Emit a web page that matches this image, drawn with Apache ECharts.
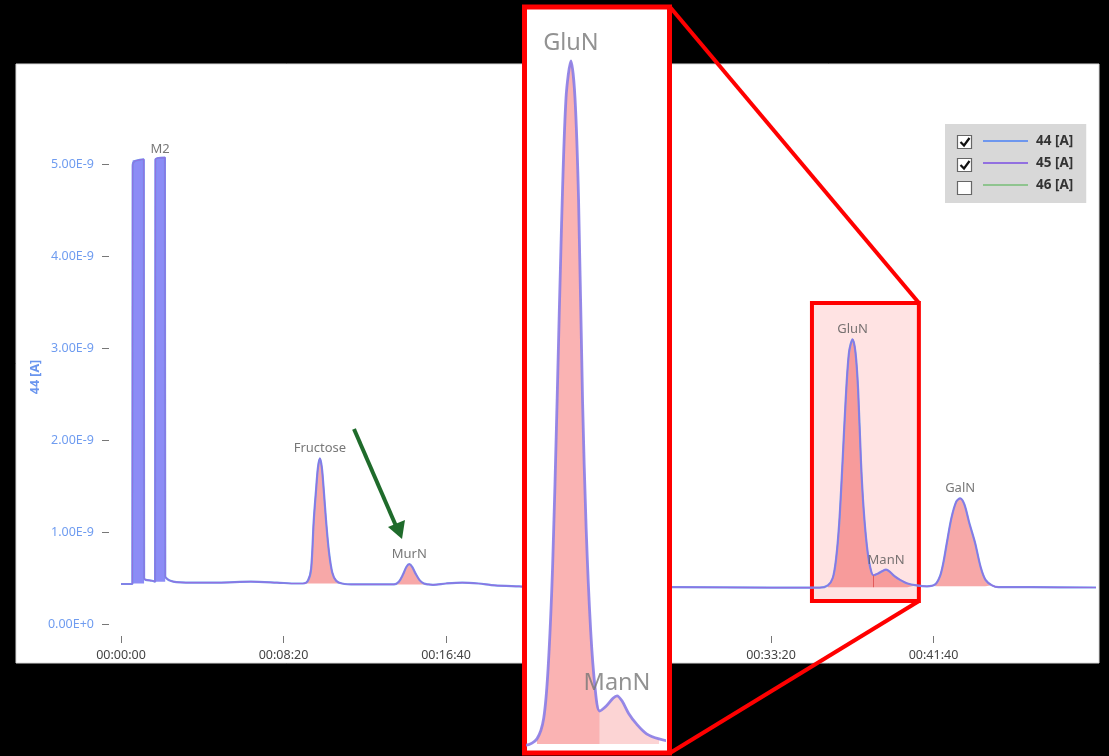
<!DOCTYPE html>
<html><head><meta charset="utf-8">
<script src="https://cdn.jsdelivr.net/npm/echarts@6/dist/echarts.min.js"></script>
<style>html,body{margin:0;padding:0;background:#000;}#c{width:1109px;height:756px;}</style>
</head><body><div id="c"></div>
<script>
// Time (s) and detector signal (units of 1E-9 A)
const timeSec = [0,35,36,42,70,71,76,95,105,106,135,136,142,152,170,200,300,400,480,540,560,575,585,593,600,606,612,618,624,631,640,650,662,680,720,800,840,855,868,878,887,896,906,918,932,945,960,1000,1050,1100,1150,1225,1300,1700,2000,2150,2175,2190,2200,2210,2220,2230,2240,2251,2260,2268,2277,2285,2295,2305,2315,2330,2345,2354,2365,2380,2397,2420,2448,2480,2505,2520,2530,2541,2555,2570,2582,2595,2610,2628,2645,2660,2680,2700,2800,3000];
const signal = [0.435,0.435,4.98,5.03,5.05,0.50,0.48,0.47,0.46,5.05,5.07,0.52,0.49,0.47,0.455,0.45,0.45,0.46,0.45,0.44,0.44,0.47,0.60,1.12,1.45,1.70,1.80,1.70,1.45,1.12,0.78,0.56,0.47,0.44,0.43,0.43,0.43,0.46,0.54,0.62,0.65,0.62,0.55,0.48,0.44,0.43,0.425,0.44,0.45,0.44,0.42,0.41,0.40,0.40,0.395,0.395,0.42,0.50,0.70,1.10,1.75,2.45,2.95,3.095,2.95,2.55,1.75,1.25,0.85,0.62,0.53,0.55,0.58,0.59,0.57,0.52,0.48,0.44,0.42,0.41,0.43,0.52,0.66,0.88,1.15,1.33,1.366,1.30,1.10,0.88,0.62,0.48,0.42,0.40,0.40,0.397];

const xTickValues = [0,500,1000,1500,2000,2500];
const xTickLabels = ['00:00:00','00:08:20','00:16:40','00:25:00','00:33:20','00:41:40'];
const yTickValues = [0,1,2,3,4,5];
const yTickLabels = ['0.00E+0','1.00E-9','2.00E-9','3.00E-9','4.00E-9','5.00E-9'];

const peakNames = ['M2','Fructose','MurN','GluN','ManN','GalN'];
const peakTimes = [120,612,887,2251,2354,2582];
const peakHeights = [5.07,1.80,0.65,3.095,0.59,1.366];

const fillStart = [560,840,2175,2505];
const fillEnd = [680,945,2448,2680];
const fillBase = [0.44,0.43,0.40,0.41];
const splitTime = 2315, splitValue = 0.53, splitBase = 0.40;

const spikeStart = [36,106];
const spikeEnd = [71,136];
const spikeBase = [0.44,0.46];
const spikeTop = [5.04,5.06];

const zoomTime = [2126,2455];
const zoomValue = [0.25,3.49];
const insetTime = [2155,2459];
const insetValue = [0.38,3.30];
const insetNames = ['GluN','ManN'];

const legendNames = ['44 [A]','45 [A]','46 [A]'];
const legendColors = ['#6e97ee','#9270e0','#8fc48f'];
const legendChecked = [true,true,false];

const FONT = '"Noto Sans", sans-serif';
const trace = timeSec.map((t,i)=>[t,signal[i]]);
const segment = (a,b)=>trace.filter(p=>p[0]>=a && p[0]<=b);
const HIDDEN = 'rgba(0,0,0,0)';

const chart = echarts.init(document.getElementById('c'));
const series = [];

// peak fills (main)
fillStart.forEach((s,i)=>{
  const ser = {type:'line', xAxisIndex:0, yAxisIndex:0, data:segment(s,fillEnd[i]), smooth:0.3,
    symbol:'none', lineStyle:{width:0}, areaStyle:{color:'rgba(240,90,90,0.75)', origin:fillBase[i]}, z:2, silent:true};
  if (splitTime>=s && splitTime<=fillEnd[i]) {
    ser.markLine = {silent:true, symbol:'none', label:{show:false}, lineStyle:{color:'#e25a5a', width:1, type:'solid'},
      data:[[{coord:[splitTime,splitBase]},{coord:[splitTime,splitValue]}]]};
  }
  series.push(ser);
});

series.push({name:legendNames[0], type:'line', xAxisIndex:0, yAxisIndex:0, data:trace, smooth:0.3, symbol:'none',
  lineStyle:{color:legendColors[0], width:2.2}, itemStyle:{color:legendColors[0]}, z:3,
  markArea:{silent:true, data:[
    ...spikeStart.map((s,i)=>[{coord:[s,spikeBase[i]], itemStyle:{color:'#8c8cf6'}},{coord:[spikeEnd[i],spikeTop[i]]}]),
    [{coord:[zoomTime[0],zoomValue[1]], itemStyle:{color:'rgba(255,0,0,0.11)', borderColor:'#ff0000', borderWidth:4}},{coord:[zoomTime[1],zoomValue[0]]}]
  ]}});
series.push({name:legendNames[1], type:'line', xAxisIndex:0, yAxisIndex:0, data:trace, smooth:0.3, symbol:'none',
  lineStyle:{color:legendColors[1], width:1.2}, itemStyle:{color:legendColors[1]}, z:4});
series.push({name:legendNames[2], type:'line', xAxisIndex:0, yAxisIndex:0, data:[], symbol:'none',
  lineStyle:{color:legendColors[2], width:1.2}, itemStyle:{color:legendColors[2]}, z:4});

// peak labels (main)
const mainLabelGap = [1,3,3,3,2,3];
series.push({type:'scatter', xAxisIndex:0, yAxisIndex:0, symbolSize:1, itemStyle:{color:HIDDEN}, silent:true, z:6,
  data:peakNames.map((n,i)=>({value:[peakTimes[i],peakHeights[i]], name:n, label:{distance:mainLabelGap[i]}})),
  label:{show:true, position:'top', formatter:p=>p.name, color:'#555', fontSize:13, fontFamily:FONT}});

// inset
series.push({type:'line', xAxisIndex:1, yAxisIndex:1, data:segment(fillStart[2],splitTime), smooth:0.3, symbol:'none',
  lineStyle:{width:0}, areaStyle:{color:'rgba(245,100,100,0.7)', origin:fillBase[2]}, z:110, silent:true,
  markLine:{silent:true, symbol:'none', label:{show:false}, lineStyle:{color:'#ee7070', width:1.5, type:'solid'},
    data:[[{coord:[splitTime,splitBase]},{coord:[splitTime,splitValue]}]]}});
series.push({type:'line', xAxisIndex:1, yAxisIndex:1, data:segment(splitTime,fillEnd[2]), smooth:0.3, symbol:'none',
  lineStyle:{width:0}, areaStyle:{color:'rgba(245,100,100,0.4)', origin:fillBase[2]}, z:110, silent:true});
series.push({type:'line', xAxisIndex:1, yAxisIndex:1, data:trace, smooth:0.3, symbol:'none', clip:true,
  lineStyle:{color:'#8a7ce6', width:2.8, opacity:0.9}, z:111, silent:true});
const insetLabelGap = [5,0];
series.push({type:'scatter', xAxisIndex:1, yAxisIndex:1, symbolSize:1, itemStyle:{color:HIDDEN}, silent:true, z:112,
  data:insetNames.map((n,k)=>{const i=peakNames.indexOf(n); return {value:[peakTimes[i],peakHeights[i]], name:n, label:{distance:insetLabelGap[k]}};}),
  label:{show:true, position:'top', formatter:p=>p.name, color:'#777', fontSize:23.5, fontFamily:FONT}});

const checkY = [135,158,181];
const graphics = [
  {type:'rect', shape:{x:16,y:64,width:1083,height:599}, style:{fill:'#fff', stroke:'#dadada', lineWidth:1}, z:-10, silent:true},
  {type:'line', shape:{x1:354,y1:429,x2:396,y2:526}, style:{stroke:'#1f6b2b', lineWidth:4}, z:50, silent:true},
  {type:'polygon', shape:{points:[[402,539],[388,527],[405,520]]}, style:{fill:'#1f6b2b'}, z:50, silent:true},
  {type:'rect', shape:{x:524.5,y:7,width:145,height:746}, style:{fill:'#fff', stroke:'#ff0000', lineWidth:5}, z:100, silent:true},
  {type:'line', shape:{x1:670,y1:7,x2:919,y2:303}, style:{stroke:'#ff0000', lineWidth:4}, z:105, silent:true},
  {type:'line', shape:{x1:670,y1:753,x2:919,y2:601}, style:{stroke:'#ff0000', lineWidth:4}, z:105, silent:true}
];
legendChecked.forEach((c,i)=>{
  graphics.push({type:'rect', shape:{x:957.5,y:checkY[i]+0.5,width:14,height:13}, style:{fill:'#fff', stroke:'#666', lineWidth:1.2}, z:20, silent:true});
  if (c) graphics.push({type:'polyline', shape:{points:[[960.5,checkY[i]+7],[964,checkY[i]+10.5],[969.5,checkY[i]+3]]}, style:{stroke:'#111', lineWidth:2.2, fill:null}, z:21, silent:true});
});

chart.setOption({
  backgroundColor:'#000',
  animation:false,
  grid:[{left:109, top:118, width:987, height:518},
        {left:528, top:9, width:136, height:740}],
  legend:{data:legendNames, orient:'vertical', left:945, top:124, padding:[10,13,11,38], itemGap:8, itemWidth:45, itemHeight:2,
    icon:'rect', backgroundColor:'#d8d8d8', selectedMode:false,
    textStyle:{color:'#333', fontWeight:'bold', fontSize:13.5, fontFamily:FONT, lineHeight:14, padding:[0,0,0,3]}},
  xAxis:[{type:'value', gridIndex:0, min:-36.92, max:3000,
      axisLine:{show:false, onZero:false}, splitLine:{show:false},
      axisTick:{show:true, length:7, lineStyle:{color:'#777'}, customValues:xTickValues},
      axisLabel:{customValues:xTickValues, margin:13, color:'#444', fontSize:12.5, fontFamily:FONT,
        formatter:v=>xTickLabels[xTickValues.indexOf(v)] || ''}},
    {type:'value', gridIndex:1, min:insetTime[0], max:insetTime[1], show:false}],
  yAxis:[{type:'value', gridIndex:0, min:-0.1304, max:5.5,
      name:'44 [A]', nameLocation:'middle', nameGap:67, nameMoveOverlap:false,
      nameTextStyle:{color:'#6a95ee', fontWeight:'bold', fontSize:12.5, fontFamily:FONT},
      axisLine:{show:false, onZero:false}, splitLine:{show:false},
      axisTick:{show:true, length:7, lineStyle:{color:'#777'}, customValues:yTickValues},
      axisLabel:{customValues:yTickValues, margin:15, color:'#6f9cf0', fontSize:12.5, fontFamily:FONT,
        formatter:v=>yTickLabels[yTickValues.indexOf(v)] || ''}},
    {type:'value', gridIndex:1, min:insetValue[0], max:insetValue[1], show:false}],
  graphic:graphics,
  series:series
});
</script></body></html>
